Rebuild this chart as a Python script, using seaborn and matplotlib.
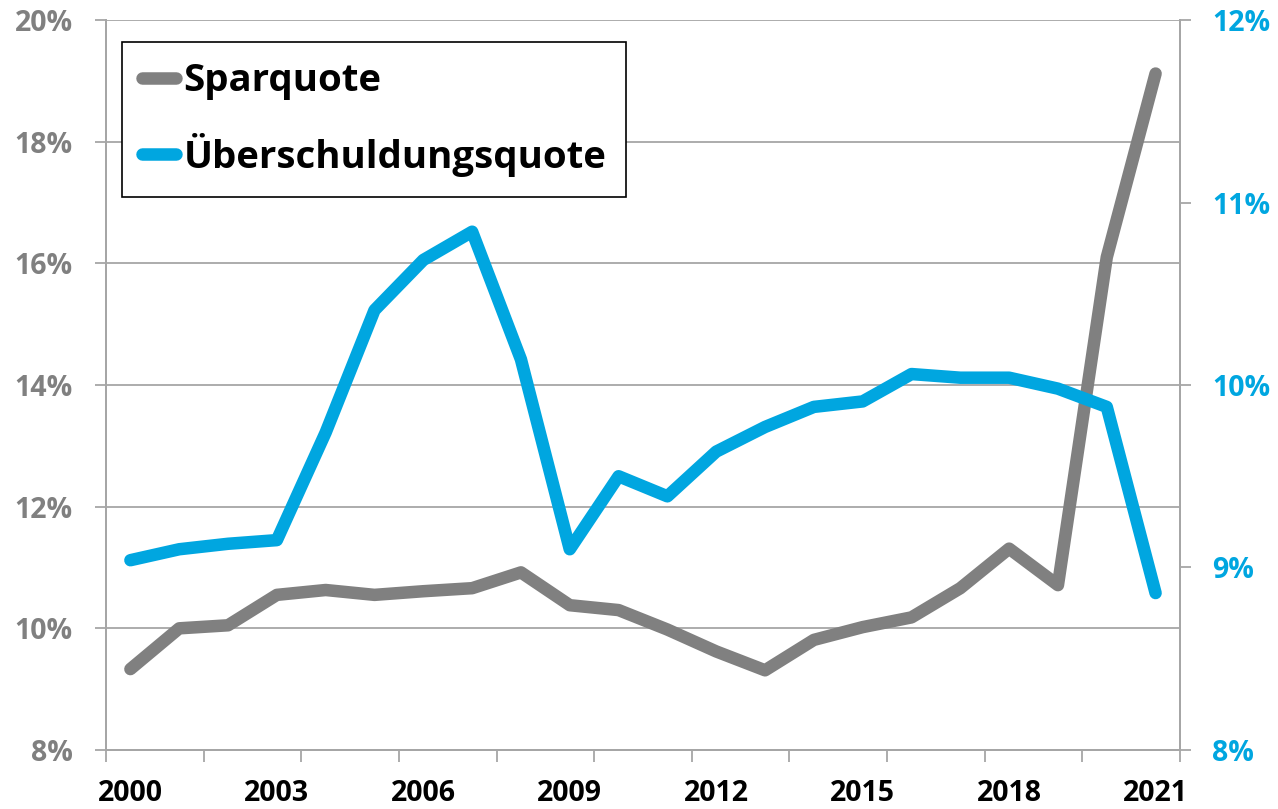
import numpy as np
import pandas as pd
import matplotlib
matplotlib.use("Agg")
import matplotlib.pyplot as plt
import seaborn as sns
from matplotlib.ticker import FixedLocator, FuncFormatter

# ---- data ----
years = list(range(2000, 2022))
sparquote = [9.33, 10.0, 10.05, 10.55, 10.63, 10.55, 10.61, 10.66, 10.92, 10.38,
             10.30, 9.98, 9.62, 9.31, 9.81, 10.02, 10.18, 10.66, 11.31, 10.71,
             16.1, 19.12]
ueberschuldung = [9.04, 9.10, 9.13, 9.15, 9.74, 10.41, 10.685, 10.84, 10.14, 9.10,
                  9.50, 9.39, 9.635, 9.77, 9.88, 9.91, 10.06, 10.04, 10.04, 9.98,
                  9.88, 8.86]
left_ticks = [8, 10, 12, 14, 16, 18, 20]
right_ticks = [8, 9, 10, 11, 12]
x_label_years = [2000, 2003, 2006, 2009, 2012, 2015, 2018, 2021]
series_names = ["Sparquote", "Überschuldungsquote"]

GREY = "#808080"
BLUE = "#00A6E0"
AXGREY = "#A6A6A6"

sns.set_theme(style="white")
plt.rcParams["font.family"] = ["Open Sans", "DejaVu Sans"]
plt.rcParams["font.weight"] = "bold"
plt.rcParams["lines.solid_capstyle"] = "round"
plt.rcParams["lines.solid_joinstyle"] = "round"

df = pd.DataFrame({"Jahr": years, series_names[0]: sparquote, series_names[1]: ueberschuldung})

fig = plt.figure(figsize=(12.78, 8.09), dpi=100)
ax = fig.add_axes([106 / 1278, 1 - 750 / 809, (1180 - 106) / 1278, 730 / 809])
ax2 = ax.twinx()

sns.lineplot(data=df, x="Jahr", y=series_names[0], ax=ax, color=GREY, linewidth=9, label=series_names[0], legend=False)
sns.lineplot(data=df, x="Jahr", y=series_names[1], ax=ax2, color=BLUE, linewidth=9, label=series_names[1], legend=False)

ax.set_xlim(1999.5, 2021.5)
ax.set_ylim(8, 20)
ax2.set_ylim(8, 12)
ax.set_xlabel("")
ax.set_ylabel("")
ax2.set_ylabel("")

# gridlines (left axis)
ax.yaxis.set_major_locator(FixedLocator(left_ticks))
ax.yaxis.set_major_formatter(FuncFormatter(lambda v, p: f"{v:.0f}%"))
ax.grid(axis="y", color=AXGREY, linewidth=1.3)
ax.grid(axis="x", visible=False)
ax.set_axisbelow(True)

ax2.yaxis.set_major_locator(FixedLocator(right_ticks))
ax2.yaxis.set_major_formatter(FuncFormatter(lambda v, p: f"{v:.0f}%"))
ax2.grid(False)

# x axis: labels every 3 years, tick marks every 2 categories (between years)
ax.xaxis.set_major_locator(FixedLocator(x_label_years))
ax.xaxis.set_major_formatter(FuncFormatter(lambda v, p: f"{v:.0f}"))
ax.xaxis.set_minor_locator(FixedLocator([years[0] - 0.5 + 2 * k for k in range(12)]))

ax.tick_params(axis="x", which="major", length=0, pad=21, labelsize=20.5, labelcolor="black")
ax.tick_params(axis="x", which="minor", length=8.5, width=1.3, color=AXGREY, direction="out", bottom=True)
ax.tick_params(axis="y", which="major", length=8, width=1.3, color=AXGREY, direction="out",
               pad=16, labelsize=20.5, labelcolor=GREY, left=True)
ax2.tick_params(axis="y", which="major", length=8, width=1.3, color=AXGREY, direction="out",
                pad=15, labelsize=20.5, labelcolor=BLUE, right=True)

for a in (ax, ax2):
    for lbl in a.get_xticklabels() + a.get_yticklabels():
        lbl.set_fontweight("bold")
    a.spines["top"].set_visible(False)
    for s in ("left", "right", "bottom"):
        a.spines[s].set_color(AXGREY)
        a.spines[s].set_linewidth(1.3)

ax.patch.set_visible(False)

# legend
h1, l1 = ax.get_legend_handles_labels()
h2, l2 = ax2.get_legend_handles_labels()
leg = ax2.legend(h1 + h2, l1 + l2, loc="upper left",
                 bbox_to_anchor=((122 - 106) / 1074, 1 - (42 - 20) / 730),
                 borderaxespad=0, frameon=True, fancybox=False, framealpha=1,
                 edgecolor="black", prop={"weight": "bold", "size": 27.6},
                 labelcolor="black",
                 handlelength=0.9, handletextpad=0.18, labelspacing=0.86, borderpad=0.52)
leg.get_frame().set_linewidth(1.2)

fig.savefig("out.png", dpi=100)
